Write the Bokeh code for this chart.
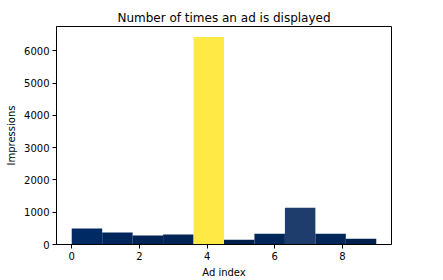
import numpy as np
from bokeh.plotting import figure
from bokeh.models import Range1d, FixedTicker
from bokeh.palettes import Cividis256
from bokeh.embed import file_html
from bokeh.resources import INLINE

# Data
ad_index_min = 0
ad_index_max = 9
n_bins = 10
impressions = [495, 370, 280, 310, 6430, 150, 335, 1140, 335, 175]
x_ticks = [0, 2, 4, 6, 8]
y_ticks = [0, 1000, 2000, 3000, 4000, 5000, 6000]

counts = np.array(impressions, dtype=float)
edges = np.linspace(ad_index_min, ad_index_max, n_bins + 1)
norm = (counts - counts.min()) / (counts.max() - counts.min())
colors = [Cividis256[int(round(v * 255))] for v in norm]

span = ad_index_max - ad_index_min
p = figure(width=443, height=280, output_backend="svg", toolbar_location=None,
           x_range=Range1d(ad_index_min - 0.05 * span, ad_index_max + 0.05 * span),
           y_range=Range1d(0, counts.max() * 1.05),
           min_border_left=56, min_border_right=52, min_border_top=26, min_border_bottom=36,
           title="Number of times an ad is displayed")

p.quad(left=edges[:-1], right=edges[1:], bottom=0, top=counts,
       fill_color=colors, line_color=None)

p.title.align = "center"
p.title.text_font = "DejaVu Sans"
p.title.text_font_size = "12px"
p.title.text_font_style = "normal"
p.title.text_color = "black"
p.title.standoff = 4
p.title.offset = 0

p.xgrid.visible = False
p.ygrid.visible = False
p.outline_line_color = "black"
p.outline_line_width = 1
p.background_fill_color = "white"
p.border_fill_color = "white"

p.xaxis.ticker = FixedTicker(ticks=x_ticks)
p.yaxis.ticker = FixedTicker(ticks=y_ticks)
p.xaxis.axis_label = "Ad index"
p.yaxis.axis_label = "Impressions"
for ax in (p.xaxis, p.yaxis):
    ax.axis_label_text_font = "DejaVu Sans"
    ax.axis_label_text_font_size = "10px"
    ax.axis_label_text_font_style = "normal"
    ax.axis_label_text_color = "black"
    ax.major_label_text_font = "DejaVu Sans"
    ax.major_label_text_font_size = "10px"
    ax.major_label_text_color = "black"
    ax.major_tick_out = 4
    ax.major_tick_in = 0
    ax.minor_tick_out = 0
    ax.minor_tick_in = 0
    ax.axis_line_color = "black"
    ax.major_tick_line_color = "black"
    ax.major_label_standoff = 3
    ax.axis_label_standoff = 4

open("out.html", "w").write(file_html(p, INLINE))
